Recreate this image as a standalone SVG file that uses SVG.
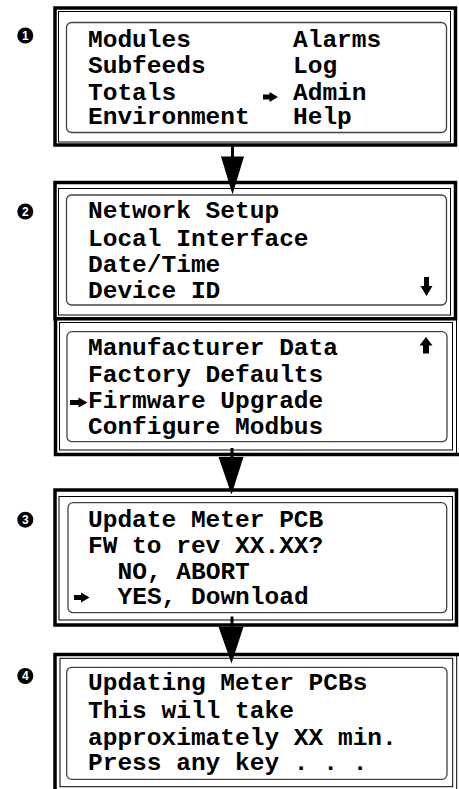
<svg xmlns="http://www.w3.org/2000/svg" width="459" height="789" viewBox="0 0 459 789">
<style>
.thick{fill:none;stroke:#000;stroke-width:3.5}
.thin{fill:none;stroke:#000;stroke-width:1}
.lcd{fill:#fff;stroke:#444;stroke-width:1.3}
.t{font-family:"Liberation Mono","Courier New",monospace;font-weight:bold;font-size:24.5px;fill:#000}
.num{font-family:"Liberation Sans",Arial,sans-serif;font-weight:bold;font-size:12px;fill:#fff;text-anchor:middle}
.ptr{fill:#000}
</style>
<rect width="459" height="789" fill="#fff"/>

<g id="step1">
<circle cx="25.3" cy="35.5" r="8" fill="#000"/>
<text class="num" x="25.3" y="39.8">1</text>
<rect class="thick" x="55" y="8" width="400.5" height="137"/>
<rect class="thin" x="58.5" y="11.5" width="392" height="130.5"/>
<rect class="lcd" x="66.5" y="22.5" width="380" height="110" rx="5"/>
<text class="t" x="88" y="46.5">Modules</text>
<text class="t" x="88" y="72.5">Subfeeds</text>
<text class="t" x="88" y="99.5">Totals</text>
<text class="t" x="88" y="124">Environment</text>
<text class="t" x="293" y="46.5">Alarms</text>
<text class="t" x="293" y="72.5">Log</text>
<text class="t" x="293" y="99.5">Admin</text>
<text class="t" x="293" y="124">Help</text>
<polygon class="ptr" points="263,94.5 269.5,94.5 269.5,92 278,97 269.5,102 269.5,99.5 263,99.5"/>
</g>

<g id="step2a">
<circle cx="25.3" cy="211.5" r="8" fill="#000"/>
<text class="num" x="25.3" y="215.8">2</text>
<rect class="thick" x="55" y="182.5" width="400.5" height="136.3"/>
<rect class="thin" x="58.5" y="188.5" width="392" height="126.5"/>
<rect class="lcd" x="66.5" y="195" width="380" height="110" rx="5"/>
<text class="t" x="88" y="218.3">Network Setup</text>
<text class="t" x="88" y="245.5">Local Interface</text>
<text class="t" x="88" y="271.5">Date/Time</text>
<text class="t" x="88" y="297.5">Device ID</text>
<polygon class="ptr" points="424,277 429,277 429,286 432.5,286 426.5,296 420.5,286 424,286"/>
</g>

<g id="step2b">
<path class="thick" d="M55.5,320 V454.5 H459"/>
<line class="thin" x1="456.5" y1="320" x2="456.5" y2="453"/>
<rect class="thin" x="59.5" y="322.5" width="393" height="127.5"/>
<rect class="lcd" x="67" y="331.7" width="380" height="110" rx="5"/>
<text class="t" x="88" y="355">Manufacturer Data</text>
<text class="t" x="88" y="381.5">Factory Defaults</text>
<text class="t" x="88" y="408">Firmware Upgrade</text>
<text class="t" x="88" y="433.5">Configure Modbus</text>
<polygon class="ptr" points="426,337 432.5,345.5 429,345.5 429,353.5 423,353.5 423,345.5 419.5,345.5"/>
<polygon class="ptr" points="70,400 78.5,400 78.5,397.5 87.5,402.5 78.5,407.5 78.5,405 70,405"/>
</g>

<g id="step3">
<circle cx="25.3" cy="519.7" r="8" fill="#000"/>
<text class="num" x="25.3" y="524">3</text>
<rect class="thick" x="55" y="490" width="401.5" height="135"/>
<rect class="thin" x="59" y="496.5" width="393.5" height="123.5"/>
<rect class="lcd" x="68" y="502.7" width="378.7" height="110" rx="5"/>
<text class="t" x="88" y="527">Update Meter PCB</text>
<text class="t" x="88" y="553">FW to rev XX.XX?</text>
<text class="t" x="117.5" y="578.5">NO, ABORT</text>
<text class="t" x="117.5" y="603.5">YES, Download</text>
<polygon class="ptr" points="74,595 81,595 81,592.5 89.5,597.5 81,602.5 81,600 74,600"/>
</g>

<g id="step4">
<circle cx="25.3" cy="676" r="8" fill="#000"/>
<text class="num" x="25.3" y="680.3">4</text>
<path class="thick" d="M459,654.5 H55 V792"/>
<line class="thin" x1="456.7" y1="656" x2="456.7" y2="789"/>
<rect class="thin" x="60" y="658.3" width="392.7" height="128.4"/>
<rect class="lcd" x="66.7" y="667.3" width="380.3" height="112" rx="5"/>
<text class="t" x="88" y="690">Updating Meter PCBs</text>
<text class="t" x="88" y="718">This will take</text>
<text class="t" x="88" y="745">approximately XX min.</text>
<text class="t" x="88" y="770">Press any key . . .</text>
</g>

<g id="connectors">
<rect x="231" y="146" width="3" height="12" fill="#000"/>
<polygon points="221,156.5 244,156.5 232.5,194.5" fill="#000"/>
<rect x="230.5" y="448" width="3" height="10" fill="#000"/>
<polygon points="218.5,457 243.5,457 231.5,494.5" fill="#000"/>
<rect x="230.5" y="616.5" width="3" height="11" fill="#000"/>
<polygon points="218.5,626.7 243.5,626.7 231.5,663.5" fill="#000"/>
</g>
</svg>
